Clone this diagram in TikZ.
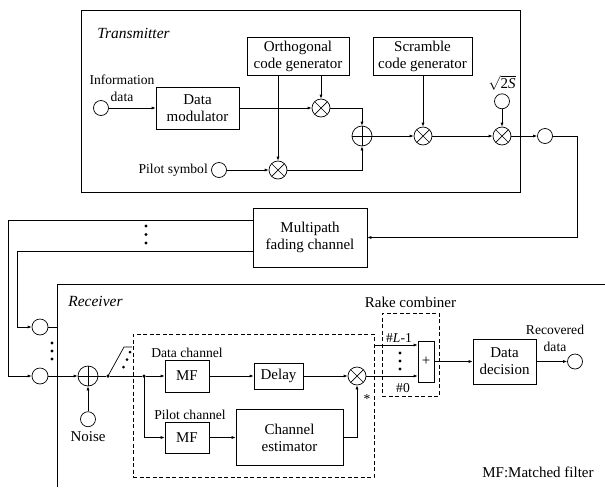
\documentclass[tikz,border=0pt]{standalone}
\usepackage{fontspec}
\setmainfont{Liberation Serif}
\usepackage{amsmath}
\usepackage{tikz}
\usetikzlibrary{arrows.meta, positioning, shapes}

\begin{document}
\begin{tikzpicture}[x=1pt, y=-1pt, line width=0.7pt, >={Latex[length=4pt,width=3pt]},
        font=\fontsize{15}{17}\selectfont,
        blk/.style={draw, rectangle, align=center, inner sep=1pt},
        port/.style={draw, circle, minimum size=15pt, inner sep=0pt},
        mult/.style={draw, circle, minimum size=18pt, inner sep=0pt, path picture={\draw (path picture bounding box.north west) -- (path picture bounding box.south east) (path picture bounding box.north east) -- (path picture bounding box.south west);}},
        adder/.style={draw, circle, minimum size=20pt, inner sep=0pt, path picture={\draw (path picture bounding box.north) -- (path picture bounding box.south) (path picture bounding box.west) -- (path picture bounding box.east);}},
        lbl/.style={font=\fontsize{13.6}{17}\selectfont, align=center, inner sep=0pt},
        ital/.style={font=\fontsize{15.5}{17}\selectfont\itshape, anchor=west, inner sep=0pt},
        dotc/.style={fill, circle, inner sep=0pt, minimum size=3.5pt},
        dbox/.style={draw, dash pattern=on 4pt off 2.5pt, rectangle, inner sep=0pt}]
        \useasboundingbox (0,0) rectangle (605,488);

        % Transmitter
        \node (tx) [draw, rectangle, minimum width=439pt, minimum height=182pt, inner sep=0pt] at (300.5,101) {};
        \node (txlabel) [ital] at (97,33) {Transmitter};
        \node (orth) [blk, minimum width=102pt, minimum height=38pt] at (298,56) {Orthogonal\\code generator};
        \node (scram) [blk, minimum width=99pt, minimum height=38pt] at (422.5,56) {Scramble\\code generator};
        \node (infoin) [port] at (101,108) {};
        \node (infolabel) [lbl] at (122,88) {Information\\data};
        \node (datamod) [blk, minimum width=83pt, minimum height=42pt] at (197.5,108) {Data\\modulator};
        \node (mult1) [mult] at (321,108) {};
        \node (sum) [adder] at (362,136) {};
        \node (mult2) [mult] at (423,136) {};
        \node (mult3) [mult] at (502,136) {};
        \node (gain) [port, above=17.5pt of mult3] {};
        \node (gainlabel) [above=3pt of gain, inner sep=0pt] {$\sqrt{\text{2\textit{S}}}$};
        \node (txout) [port] at (545,136) {};
        \node (pilot) [port] at (219,170) {};
        \node (pilotlabel) [lbl, left=3pt of pilot] {Pilot symbol};
        \node (mult4) [mult] at (278,170) {};

        \draw[->] (infoin) -- (datamod);
        \draw[->] (datamod) -- (mult1);
        \draw[->] (orth.south -| mult4) -- (mult4);
        \draw[->] (orth.south -| mult1) -- (mult1);
        \draw[->] (pilot) -- (mult4);
        \draw[->] (mult1) -| (sum);
        \draw[->] (mult4) -| (sum);
        \draw[->] (sum) -- (mult2);
        \draw[->] (scram.south -| mult2) -- (mult2);
        \draw[->] (mult2) -- (mult3);
        \draw[->] (gain) -- (mult3);
        \draw[->] (mult3) -- (txout);

        % Channel
        \node (chan) [blk, minimum width=114pt, minimum height=59pt] at (310,237.5) {Multipath\\fading channel};
        \coordinate (bend) at (577,136);
        \draw[->] (txout) -- (bend) |- (chan);
        \foreach \y in {226,234.5,243}
            \fill (146,\y) circle [radius=1.7pt];

        % Receiver
        \draw (605,284) -| (57,487);
        \node (rxlabel) [ital] at (68,301) {Receiver};
        \node (rin1) [port, minimum size=16pt] at (40,327) {};
        \node (rin2) [port, minimum size=16pt] at (40,376) {};
        \draw[->] ([yshift=17.5]chan.west) -| ([xshift=-32]rin2.center) -- (rin2);
        \draw[->] ([yshift=-13.5]chan.west) -| ([xshift=-23]rin1.center) -- (rin1);
        \draw (rin1) -- ([xshift=17]rin1.center);
        \foreach \y in {343,351,359}
            \fill (52,\y) circle [radius=1.7pt];

        \node (nadd) [adder] at (88,376) {};
        \node (noise) [port, below=25pt of nadd] {};
        \node (noiselabel) [below=4pt of noise, inner sep=0pt] {Noise};
        \draw[->] (rin2) -- (nadd);
        \draw[->] (noise) -- (nadd);

        % switch
        \node (sw) [dotc] at (108,376) {};
        \draw (nadd) -- (sw);
        \draw (sw.center) -- (124,347) -- (132,347);
        \foreach \p in {(130,352),(127,359.5),(123.5,367)}
            \fill \p circle [radius=1.5pt];

        % Despreading
        \node (jdot) [dotc] at (144,376) {};
        \draw (sw) -- (jdot);
        \node (desp) [dbox, minimum width=241pt, minimum height=143pt] at (253.5,405.5) {};
        \node (mf1) [blk, minimum width=44pt, minimum height=32pt] at (187,376) {MF};
        \node (datalabel) [lbl, above=1.5pt of mf1] {Data channel};
        \node (delay) [blk, minimum width=49pt, minimum height=26pt] at (278.5,376) {Delay};
        \node (mult5) [mult] at (357,376) {};
        \node (mf2) [blk, minimum width=44pt, minimum height=31pt] at (187,437.5) {MF};
        \node (pilotch) [lbl, above=1.5pt of mf2, xshift=3pt] {Pilot channel};
        \node (chest) [blk, minimum width=107pt, minimum height=56pt] at (289.5,437.5) {Channel\\estimator};
        \node (conj) [lbl] at (367,399) {*};

        \draw[->] (jdot) -- (mf1);
        \draw[->] (jdot.center) |- (mf2);
        \draw[->] (mf1) -- (delay);
        \draw[->] (delay) -- (mult5);
        \draw[->] (mf2) -- (chest);
        \draw[->] (chest) -| (mult5);

        % Rake combiner
        \node (plus) [blk, minimum width=16pt, minimum height=41pt, inner sep=0pt] at (426,361.5) {+};
        \node (rake) [dbox, minimum width=57pt, minimum height=83pt] at (410.5,354.5) {};
        \node (rakelabel) [above=5pt of rake, inner sep=0pt] {Rake combiner};
        \draw[->] (mult5) -- (mult5 -| plus.west);
        \draw[->] ([yshift=16.5]plus.west -| desp.east) -- ([yshift=16.5]plus.west);
        \node (lastlabel) [lbl] at (399,338) {\#\textit{L}-1};
        \node (firstlabel) [lbl] at (403,388) {\#0};
        \foreach \y in {353,361,369}
            \fill (400,\y) circle [radius=1.7pt];

        \node (dec) [blk, minimum width=63pt, minimum height=45pt] at (504.5,361.5) {Data\\decision};
        \node (rxout) [port] at (575,361.5) {};
        \node (reclabel) [lbl] at (555,338) {Recovered\\data};
        \draw[->] (plus) -- (dec);
        \draw[->] (dec) -- (rxout);

        \node (mflabel) at (538,472) {MF:Matched filter};
\end{tikzpicture}
\end{document}
